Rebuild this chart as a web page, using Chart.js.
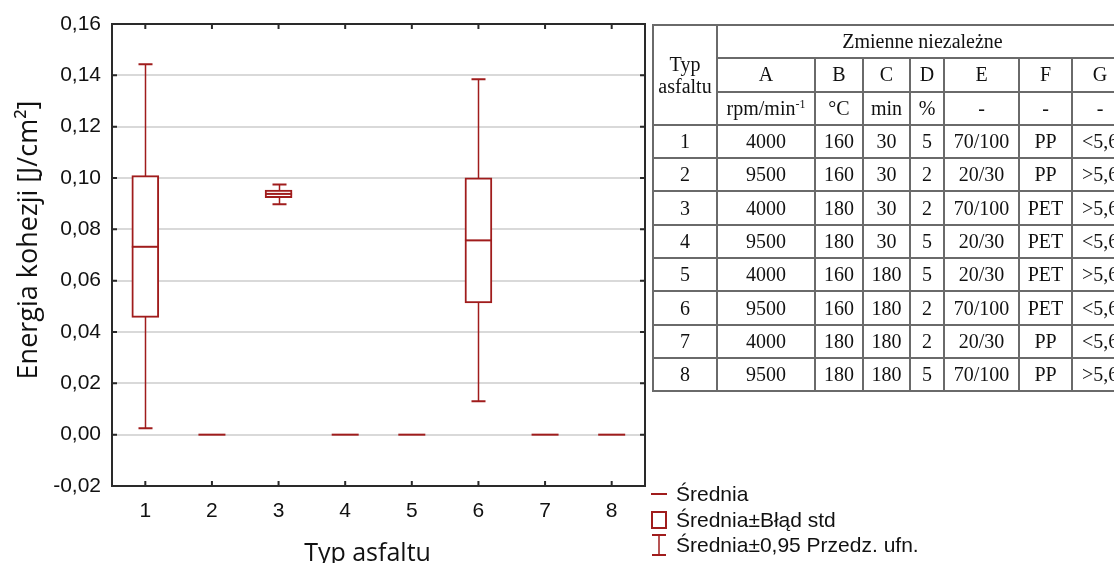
<!DOCTYPE html>
<html><head><meta charset="utf-8">
<script src="https://cdn.jsdelivr.net/npm/chart.js@4.4.1/dist/chart.umd.min.js"></script>
<style>
html,body{margin:0;padding:0;background:#fff;}
body{width:1114px;height:563px;overflow:hidden;position:relative;}
#wrap{position:absolute;left:0;top:0;width:660px;height:563px;}
#tbl{position:absolute;left:652px;top:24px;width:475px;border-collapse:collapse;table-layout:fixed;font-family:"Liberation Serif","Times New Roman",serif;font-size:20px;color:#111;}
#tbl td{border:2px solid #6a6a6a;text-align:center;padding:0;white-space:nowrap;overflow:hidden;line-height:21px;}
#tbl tr{height:33.3px;}
#tbl sup{font-size:12px;vertical-align:7px;line-height:0;}
#legend{position:absolute;left:650px;top:481px;font-family:"Liberation Sans",Arial,sans-serif;font-size:21px;color:#111;}
.li{position:relative;height:25.5px;line-height:25.5px;padding-left:26px;white-space:nowrap;}
.sym{position:absolute;left:0;top:0;width:18px;height:25.5px;}
</style>
</head><body>
<div id="wrap"><canvas id="c"></canvas></div>
<table id="tbl"></table>
<div id="legend"></div>
<script>
// ---- data ----
const categories = ['1','2','3','4','5','6','7','8'];
const meanVals   = [0.0732, 0, 0.0938, 0, 0, 0.0757, 0, 0];
const seLow      = [0.0457, 0, 0.0923, 0, 0, 0.0513, 0, 0];
const seHigh     = [0.1009, 0, 0.0953, 0, 0, 0.1001, 0, 0];
const ciLow      = [0.0025, 0, 0.0898, 0, 0, 0.0130, 0, 0];
const ciHigh     = [0.1443, 0, 0.0975, 0, 0, 0.1385, 0, 0];
const yTickValues = [-0.02, 0, 0.02, 0.04, 0.06, 0.08, 0.10, 0.12, 0.14, 0.16];
const yTitle = 'Energia kohezji [J/cm\u00B2]';
const xTitle = 'Typ asfaltu';
const legendLabels = ['Średnia', 'Średnia±Błąd std', 'Średnia±0,95 Przedz. ufn.'];

// table data
const tableTitle = ['Typ', 'asfaltu'];
const tableGroup = 'Zmienne niezależne';
const varNames = ['A','B','C','D','E','F','G'];
const varUnits = ['rpm/min<sup>-1</sup>','°C','min','%','-','-','-'];
const colA = ['4000','9500','4000','9500','4000','9500','4000','9500'];
const colB = ['160','160','180','180','160','160','180','180'];
const colC = ['30','30','30','30','180','180','180','180'];
const colD = ['5','2','2','5','5','2','2','5'];
const colE = ['70/100','20/30','70/100','20/30','20/30','70/100','20/30','70/100'];
const colF = ['PP','PP','PET','PET','PET','PET','PP','PP'];
const colG = ['<5,6','>5,6','>5,6','<5,6','>5,6','<5,6','<5,6','>5,6'];

const RED = '#a01c1c';

// ---- table ----
(function(){
  const widths = [64,98,48,47,34,75,53,56];
  let h = '<colgroup>' + widths.map(w=>'<col style="width:'+w+'px">').join('') + '</colgroup>';
  h += '<tr><td rowspan="3" style="line-height:22px">'+tableTitle.join('<br>')+'</td><td colspan="7">'+tableGroup+'</td></tr>';
  h += '<tr>' + varNames.map(v=>'<td>'+v+'</td>').join('') + '</tr>';
  h += '<tr>' + varUnits.map(v=>'<td>'+v+'</td>').join('') + '</tr>';
  const esc = s => s.replace(/</g,'&lt;').replace(/>/g,'&gt;');
  categories.forEach((c,i)=>{
    h += '<tr>' + [c,colA[i],colB[i],colC[i],colD[i],colE[i],colF[i],colG[i]].map(v=>'<td>'+esc(v)+'</td>').join('') + '</tr>';
  });
  document.getElementById('tbl').innerHTML = h;
})();

// ---- legend ----
(function(){
  const syms = [
    '<svg class="sym" width="18" height="26"><line x1="1" y1="13" x2="17" y2="13" stroke="'+RED+'" stroke-width="2"/></svg>',
    '<svg class="sym" width="18" height="26"><rect x="2" y="5" width="14" height="16" fill="none" stroke="'+RED+'" stroke-width="2"/></svg>',
    '<svg class="sym" width="18" height="26"><line x1="2" y1="3" x2="16" y2="3" stroke="'+RED+'" stroke-width="2"/><line x1="9" y1="3" x2="9" y2="23" stroke="'+RED+'" stroke-width="1.5"/><line x1="2" y1="23" x2="16" y2="23" stroke="'+RED+'" stroke-width="2"/></svg>'
  ];
  document.getElementById('legend').innerHTML = legendLabels.map((t,i)=>'<div class="li">'+syms[i]+t+'</div>').join('');
})();

// ---- chart ----
const boxPlugin = {
  id: 'boxPlugin',
  beforeDatasetsDraw(chart){
    const {ctx, scales:{x, y}} = chart;
    ctx.save();
    ctx.strokeStyle = RED;
    categories.forEach((c,i)=>{
      if (ciHigh[i] <= ciLow[i]) return;
      const px = Math.round(x.getPixelForValue(i)) + 0.5;
      const yl = y.getPixelForValue(ciLow[i]), yh = y.getPixelForValue(ciHigh[i]);
      ctx.lineWidth = 1.5;
      ctx.beginPath(); ctx.moveTo(px, yl); ctx.lineTo(px, yh); ctx.stroke();
      ctx.lineWidth = 2;
      ctx.beginPath();
      ctx.moveTo(px-7, yl); ctx.lineTo(px+7, yl);
      ctx.moveTo(px-7, yh); ctx.lineTo(px+7, yh);
      ctx.stroke();
    });
    ctx.restore();
  },
  afterDatasetsDraw(chart){
    const {ctx, chartArea:a, scales:{x, y}} = chart;
    const meta = chart.getDatasetMeta(0);
    ctx.save();
    // mean lines
    ctx.strokeStyle = RED; ctx.lineWidth = 2;
    categories.forEach((c,i)=>{
      const bar = meta.data[i];
      const w = bar.width;
      const px = x.getPixelForValue(i);
      const py = y.getPixelForValue(meanVals[i]);
      ctx.beginPath(); ctx.moveTo(px - w/2, py); ctx.lineTo(px + w/2, py); ctx.stroke();
    });
    // frame
    ctx.strokeStyle = '#2a2a2a'; ctx.lineWidth = 2;
    ctx.strokeRect(a.left, a.top, a.right - a.left, a.bottom - a.top);
    // inward ticks
    ctx.lineWidth = 2;
    ctx.beginPath();
    yTickValues.forEach(v=>{
      const py = y.getPixelForValue(v);
      ctx.moveTo(a.left, py); ctx.lineTo(a.left + 5, py);
      ctx.moveTo(a.right, py); ctx.lineTo(a.right - 5, py);
    });
    categories.forEach((c,i)=>{
      const px = x.getPixelForValue(i);
      ctx.moveTo(px, a.top); ctx.lineTo(px, a.top + 5);
      ctx.moveTo(px, a.bottom); ctx.lineTo(px, a.bottom - 5);
    });
    ctx.stroke();
    // axis titles
    ctx.fillStyle = '#111';
    ctx.font = '25px "Open Sans", sans-serif';
    ctx.textAlign = 'center'; ctx.textBaseline = 'alphabetic';
    ctx.fillText(xTitle, (a.left + a.right)/2 - 11, 561);
    ctx.translate(37, (a.top + a.bottom)/2 - 15);
    ctx.rotate(-Math.PI/2);
    ctx.font = '27px "Open Sans", sans-serif';
    ctx.fillText(yTitle, 0, 0);
    ctx.restore();
  }
};

new Chart(document.getElementById('c'), {
  type: 'bar',
  data: {
    labels: categories,
    datasets: [{
      label: legendLabels[1],
      data: categories.map((c,i)=>[seLow[i], seHigh[i]]),
      backgroundColor: '#ffffff',
      borderColor: RED,
      borderWidth: 2,
      borderSkipped: false,
      barThickness: 27
    }]
  },
  options: {
    responsive: true,
    maintainAspectRatio: false,
    animation: false,
    layout: { padding: { top: 24, right: 15, left: 0, bottom: 0 } },
    plugins: { legend: { display: false }, tooltip: { enabled: false } },
    scales: {
      x: {
        offset: true,
        grid: { display: false, drawTicks: false },
        border: { display: false },
        ticks: { color: '#111', padding: 13, font: { family: '"Liberation Sans", Arial, sans-serif', size: 21 } },
        afterFit(s){ s.height = 77; }
      },
      y: {
        min: -0.02, max: 0.16,
        afterBuildTicks(s){ s.ticks = yTickValues.map(v=>({value:v})); },
        grid: { color: '#d9d9d9', lineWidth: 2, drawTicks: false },
        border: { display: false },
        ticks: {
          color: '#111', padding: 11,
          font: { family: '"Liberation Sans", Arial, sans-serif', size: 21 },
          callback: v => Number(v).toFixed(2).replace('.', ',')
        },
        afterFit(s){ s.width = 112; }
      }
    }
  },
  plugins: [boxPlugin]
});
</script>
</body></html>
